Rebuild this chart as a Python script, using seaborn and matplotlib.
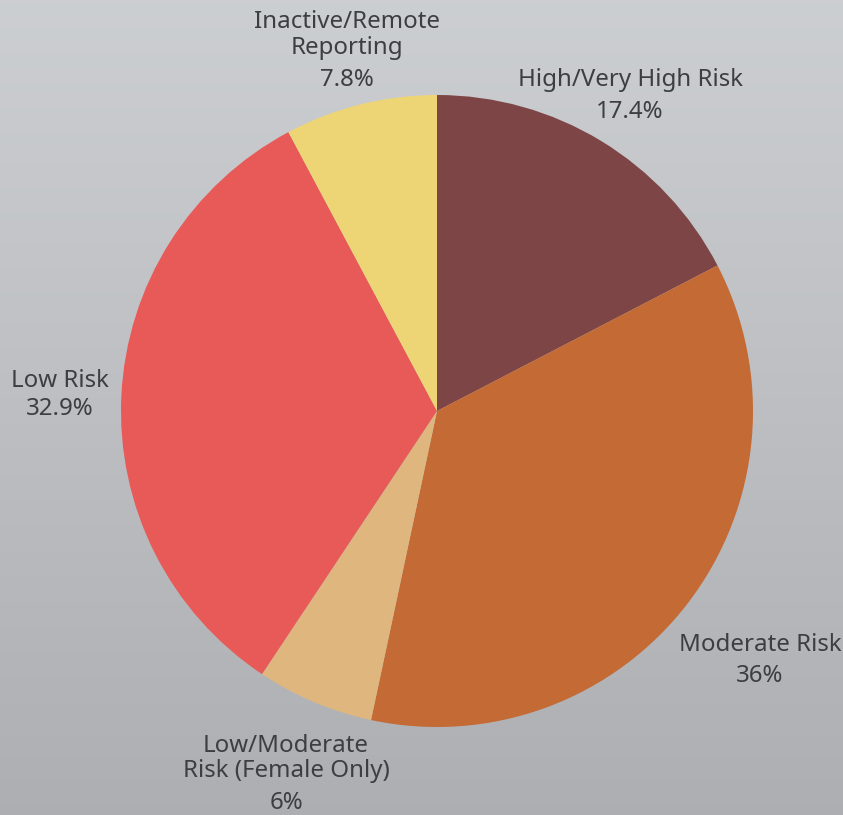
import numpy as np
import matplotlib
matplotlib.use("Agg")
import matplotlib.pyplot as plt
import seaborn as sns

categories = ["High/Very High Risk", "Moderate Risk", "Low/Moderate Risk (Female Only)",
              "Low Risk", "Inactive/Remote Reporting"]
values = [17.4, 36.0, 6.0, 32.9, 7.8]
value_labels = ["17.4%", "36%", "6%", "32.9%", "7.8%"]
colors = ["#7E4546", "#C46A35", "#DFB77E", "#E85A58", "#EDD576"]

sns.set_theme(style="white")
plt.rcParams["font.family"] = ["Noto Sans", "DejaVu Sans"]

W, H = 843, 815
fig = plt.figure(figsize=(W / 100, H / 100), dpi=100)

# background gradient
bg = fig.add_axes([0, 0, 1, 1])
grad = np.linspace(0, 1, 256).reshape(-1, 1)
top = np.array([0.80, 0.81, 0.82])
bot = np.array([0.68, 0.685, 0.70])
img = top[None, None, :] * (1 - grad[:, :, None]) + bot[None, None, :] * grad[:, :, None]
bg.imshow(img, aspect="auto", extent=[0, 1, 0, 1])
bg.axis("off")

cx, cy, r = 437, 411, 316
ax = fig.add_axes([(cx - r) / W, (H - cy - r) / H, 2 * r / W, 2 * r / H])
ax.pie(values, colors=colors, startangle=90, counterclock=False, radius=1,
       wedgeprops=dict(linewidth=0))
ax.set_xlim(-1, 1)
ax.set_ylim(-1, 1)
ax.set_aspect("equal")
ax.axis("off")

txt_color = "#3b3e42"
fs = 17.3

def put(px, py, s):
    fig.text(px / W, 1 - py / H, s, ha="center", va="center", fontsize=fs, color=txt_color)

# label text lines
put(347, 22, "Inactive/Remote")
put(347, 48, "Reporting")
put(347, 80, value_labels[4])
put(630, 80, categories[0])
put(630, 112, value_labels[0])
put(60, 381, categories[3])
put(60, 409, value_labels[3])
put(760, 645, categories[1])
put(760, 676, value_labels[1])
put(286, 746, "Low/Moderate")
put(286, 771, "Risk (Female Only)")
put(286, 803, value_labels[2])

fig.savefig("out.png", dpi=100)
